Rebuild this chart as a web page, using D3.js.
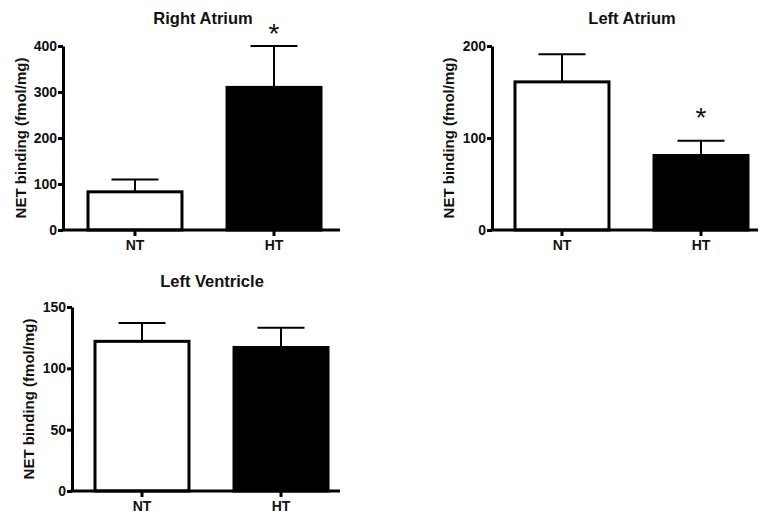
<!DOCTYPE html>
<html>
<head>
<meta charset="utf-8">
<script src="https://cdn.jsdelivr.net/npm/d3@7"></script>
<style>
body { margin:0; background:#fff; }
text { font-family:"Liberation Sans", Arial, sans-serif; fill:#111; }
.title { font-size:16.5px; font-weight:bold; }
.label { font-size:15px; font-weight:bold; }
.tick text { font-size:14px; font-weight:bold; fill:#111; }
.star { font-size:28px; }
</style>
</head>
<body>
<svg id="chart"></svg>
<script>
// groups on the x axis
var groups = ["NT","HT"];
var panelTitles = ["Right Atrium","Left Atrium","Left Ventricle"];
// mean NET binding (fmol/mg)
var raMeans = [83,310];
var laMeans = [161,81];
var lvMeans = [122,117];
// SEM (upper whisker length)
var raErrors = [27,90];
var laErrors = [30,16];
var lvErrors = [15,16];
// y tick labels
var raTicks = [0,100,200,300,400];
var laTicks = [0,100,200];
var lvTicks = [0,50,100,150];
// which bars get an asterisk
var raStars = [false,true];
var laStars = [false,true];
var lvStars = [false,false];

var fills = ["#fff","#000"];

//layout of each panel on the page
var layouts = [
  {axisX:63, axisEnd:340, base:230, top:46, bars:[88,321], labelX:20, titleX:203, titleY:24, catY:250, starGap:3},
  {axisX:492, axisEnd:758, base:230, top:46, bars:[515,748], labelX:448, titleX:632, titleY:24, catY:250, starGap:14},
  {axisX:72, axisEnd:340, base:491, top:307, bars:[95,328], labelX:28, titleX:212, titleY:287, catY:511, starGap:3}
];

var svg = d3.select("#chart")
  .attr("width",760)
  .attr("height",514);

var drawPanel = function(index,means,errors,ticks,stars)
{
  var lay = layouts[index];
  var g = svg.append("g");

  var xScale = d3.scaleBand()
    .domain(groups)
    .range(lay.bars)
    .paddingInner(0.324)
    .paddingOuter(0);

  var yScale = d3.scaleLinear()
    .domain([0,d3.max(ticks)])
    .range([lay.base,lay.top]);

  var data = groups.map(function(grp,i){
    return {group:grp, mean:means[i], err:errors[i], star:stars[i], fill:fills[i]};
  });

  //error bars (upper only), drawn under the bars
  var err = g.selectAll(".err")
    .data(data)
    .enter()
    .append("g")
    .attr("class","err");
  err.append("line")
    .attr("x1",function(d){return xScale(d.group)+xScale.bandwidth()/2})
    .attr("x2",function(d){return xScale(d.group)+xScale.bandwidth()/2})
    .attr("y1",function(d){return yScale(d.mean)})
    .attr("y2",function(d){return yScale(d.mean+d.err)})
    .attr("stroke","#000")
    .attr("stroke-width",2);
  err.append("line")
    .attr("x1",function(d){return xScale(d.group)+xScale.bandwidth()*0.25})
    .attr("x2",function(d){return xScale(d.group)+xScale.bandwidth()*0.75})
    .attr("y1",function(d){return yScale(d.mean+d.err)})
    .attr("y2",function(d){return yScale(d.mean+d.err)})
    .attr("stroke","#000")
    .attr("stroke-width",2);

  //bars
  g.selectAll("rect")
    .data(data)
    .enter()
    .append("rect")
    .attr("x",function(d){return xScale(d.group)})
    .attr("y",function(d){return yScale(d.mean)})
    .attr("width",xScale.bandwidth())
    .attr("height",function(d){return lay.base-yScale(d.mean)})
    .attr("fill",function(d){return d.fill})
    .attr("stroke","#000")
    .attr("stroke-width",3);

  //asterisks
  g.selectAll(".star")
    .data(data.filter(function(d){return d.star}))
    .enter()
    .append("text")
    .attr("class","star")
    .attr("text-anchor","middle")
    .attr("x",function(d){return xScale(d.group)+xScale.bandwidth()/2})
    .attr("y",function(d){return yScale(d.mean+d.err)-lay.starGap})
    .text("*");

  //y axis
  var yAxis = d3.axisLeft(yScale)
    .tickValues(ticks)
    .tickSize(5)
    .tickSizeOuter(0)
    .tickPadding(1);
  var ya = g.append("g")
    .attr("transform","translate("+lay.axisX+",0)")
    .call(yAxis);
  ya.select(".domain").attr("stroke-width",3).attr("stroke","#000");
  ya.selectAll(".tick line").attr("stroke-width",3).attr("stroke","#000");

  //x axis
  var xAxis = d3.axisBottom(xScale)
    .tickSize(6)
    .tickSizeOuter(0)
    .tickPadding(4);
  var xa = g.append("g")
    .attr("transform","translate(0,"+lay.base+")")
    .call(xAxis);
  xa.select(".domain").remove();
  xa.selectAll(".tick line").attr("stroke-width",3).attr("stroke","#000");
  g.append("line")
    .attr("x1",lay.axisX-1.5)
    .attr("x2",lay.axisEnd)
    .attr("y1",lay.base)
    .attr("y2",lay.base)
    .attr("stroke","#000")
    .attr("stroke-width",3);

  //title
  g.append("text")
    .attr("class","title")
    .attr("text-anchor","middle")
    .attr("x",lay.titleX)
    .attr("y",lay.titleY)
    .text(panelTitles[index]);

  //y label
  g.append("g")
    .attr("transform","translate("+lay.labelX+","+((lay.base+lay.top)/2)+")")
    .append("text")
    .attr("class","label")
    .attr("text-anchor","middle")
    .attr("dominant-baseline","central")
    .attr("transform","rotate(-90)")
    .text("NET binding (fmol/mg)");
}

drawPanel(0,raMeans,raErrors,raTicks,raStars);
drawPanel(1,laMeans,laErrors,laTicks,laStars);
drawPanel(2,lvMeans,lvErrors,lvTicks,lvStars);
</script>
</body>
</html>
